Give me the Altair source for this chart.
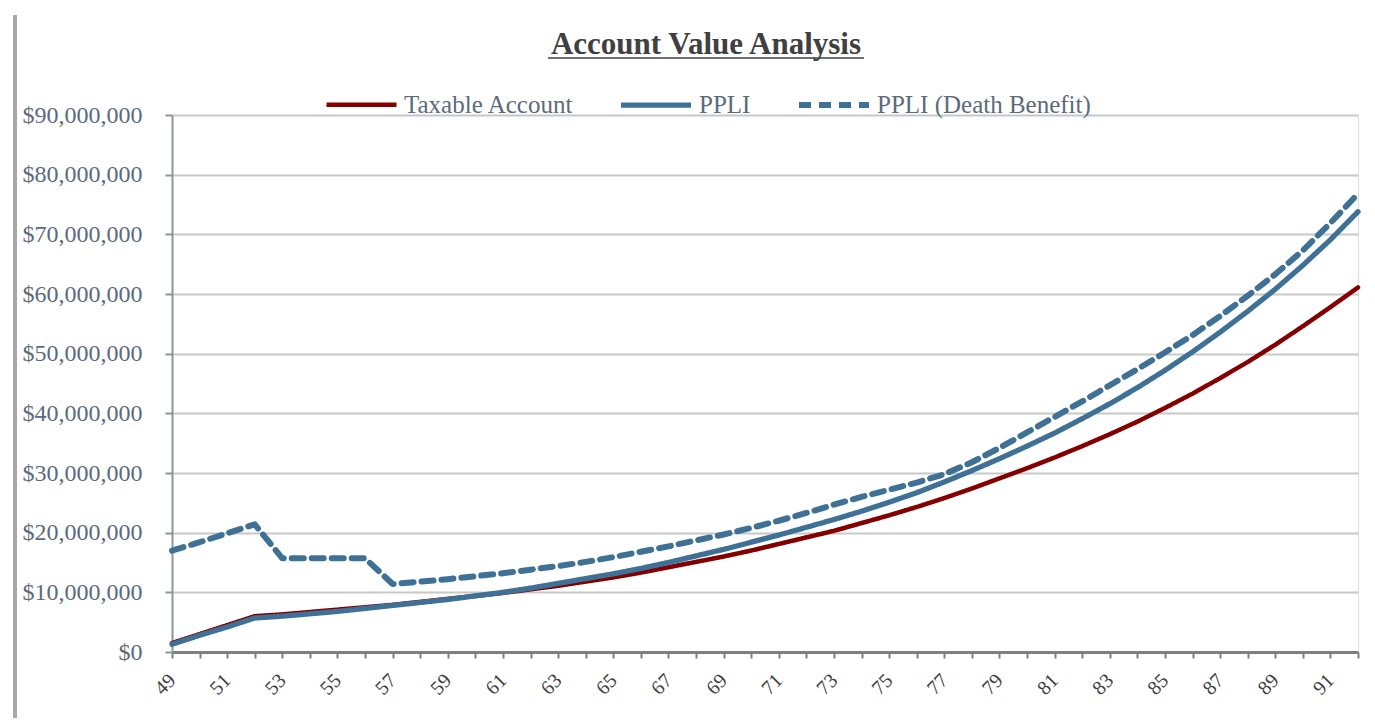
import altair as alt
import pandas as pd

# ---------------- data (values in $ millions) ----------------
ages = list(range(49, 93))

taxable = [1.5, 3.0, 4.5, 6.0, 6.3, 6.7, 7.1, 7.5, 7.9, 8.4,
           8.9, 9.4, 9.9, 10.5, 11.1, 11.8, 12.5, 13.3, 14.2, 15.1,
           16.0, 17.0, 18.1, 19.2, 20.3, 21.6, 22.9, 24.3, 25.8, 27.4,
           29.1, 30.8, 32.6, 34.5, 36.5, 38.6, 40.9, 43.3, 45.9, 48.6,
           51.5, 54.6, 57.8, 61.1]

ppli = [1.3, 2.8, 4.2, 5.7, 6.0, 6.4, 6.8, 7.3, 7.8, 8.3,
        8.8, 9.4, 10.0, 10.7, 11.5, 12.3, 13.1, 14.0, 15.0, 16.1,
        17.2, 18.4, 19.6, 20.9, 22.2, 23.6, 25.1, 26.7, 28.5, 30.4,
        32.4, 34.5, 36.7, 39.1, 41.6, 44.3, 47.2, 50.3, 53.6, 57.1,
        60.8, 64.8, 69.1, 73.8]

ppli_db = [17.0, 18.4, 19.9, 21.4, 15.7, 15.7, 15.7, 15.7, 11.4, 11.8,
           12.2, 12.7, 13.2, 13.8, 14.4, 15.1, 15.9, 16.8, 17.7, 18.7,
           19.7, 20.8, 22.0, 23.3, 24.7, 26.0, 27.2, 28.4, 29.8, 31.8,
           34.2, 36.8, 39.4, 42.0, 44.7, 47.4, 50.2, 53.1, 56.3, 59.7,
           63.3, 67.3, 71.9, 76.8]

series_names = ["Taxable Account", "PPLI", "PPLI (Death Benefit)"]
series_colors = ["#840000", "#3E7195", "#3E7195"]
series_dash = [[1, 0], [1, 0], [12, 8]]
series_width = [4.5, 6, 4]
y_ticks = list(range(0, 90_000_001, 10_000_000))
chart_title = "Account Value Analysis"

rows = []
for name, vals in zip(series_names, [taxable, ppli, ppli_db]):
    for a, v in zip(ages, vals):
        rows.append({"Age": a, "Value": v * 1e6, "Series": name})
df = pd.DataFrame(rows)

FONT = "Liberation Serif"
SLATE = "#5B6B7C"

legend = alt.Legend(
    title=None, orient="none", legendX=152, legendY=-48, direction="horizontal",
    symbolType="stroke", symbolSize=4900, symbolStrokeWidth=5,
    labelFont=FONT, labelFontSize=25, labelColor=SLATE, labelLimit=400,
    columnPadding=36, labelOffset=5, padding=0,
)

lines = alt.Chart(df).mark_line(strokeCap="round", strokeJoin="round").encode(
    x=alt.X("Age:Q",
            scale=alt.Scale(domain=[49, 92], nice=False, zero=False),
            axis=alt.Axis(values=ages, title=None, grid=False,
                          labelExpr="datum.value % 2 == 1 ? datum.label : ''",
                          labelAngle=-45, labelAlign="right", labelBaseline="middle",
                          labelPadding=19, labelFont=FONT, labelFontSize=20,
                          labelColor="#404040", labelOverlap=False,
                          tickSize=6, tickWidth=2, tickColor="#7F7F7F",
                          domainColor="#7F7F7F", domainWidth=3)),
    y=alt.Y("Value:Q",
            scale=alt.Scale(domain=[0, 90_000_000], nice=False),
            axis=alt.Axis(values=y_ticks, format="$,.0f", title=None,
                          labelFont=FONT, labelFontSize=24, labelColor=SLATE,
                          labelPadding=23, tickSize=7, tickWidth=2, tickColor="#8C96A0",
                          domainColor="#8C96A0", domainWidth=2,
                          gridColor="#C8C8C8", gridWidth=2)),
    color=alt.Color("Series:N", scale=alt.Scale(domain=series_names, range=series_colors),
                    legend=legend),
    strokeDash=alt.StrokeDash("Series:N", scale=alt.Scale(domain=series_names, range=series_dash),
                              legend=legend),
    strokeWidth=alt.StrokeWidth("Series:N", scale=alt.Scale(domain=series_names, range=series_width),
                                legend=None),
)

deco = alt.Data(values=[{"t": chart_title}])
title = alt.Chart(deco).mark_text(font=FONT, fontSize=31, fontWeight="bold", color="#404040",
                                  align="center", baseline="alphabetic").encode(
    text="t:N", x=alt.value(534), y=alt.value(-61)
)
underline = alt.Chart(deco).mark_rule(color="#404040", strokeWidth=1.5).encode(
    x=alt.value(376), x2=alt.value(692), y=alt.value(-57)
)
shadow = alt.Chart(deco).mark_rule(color="#A8A8A8", strokeWidth=4).encode(
    x=alt.value(-157), y=alt.value(-100), y2=alt.value(620)
)

chart = alt.layer(lines, title, underline, shadow).properties(
    width=1186, height=537,
    autosize=alt.AutoSizeParams(type="none"),
    padding={"left": 164, "top": 107, "right": 9, "bottom": 66},
).configure_view(stroke=None).configure(background="white")

chart.save("out.html", embed_options={"renderer": "svg", "actions": False})
